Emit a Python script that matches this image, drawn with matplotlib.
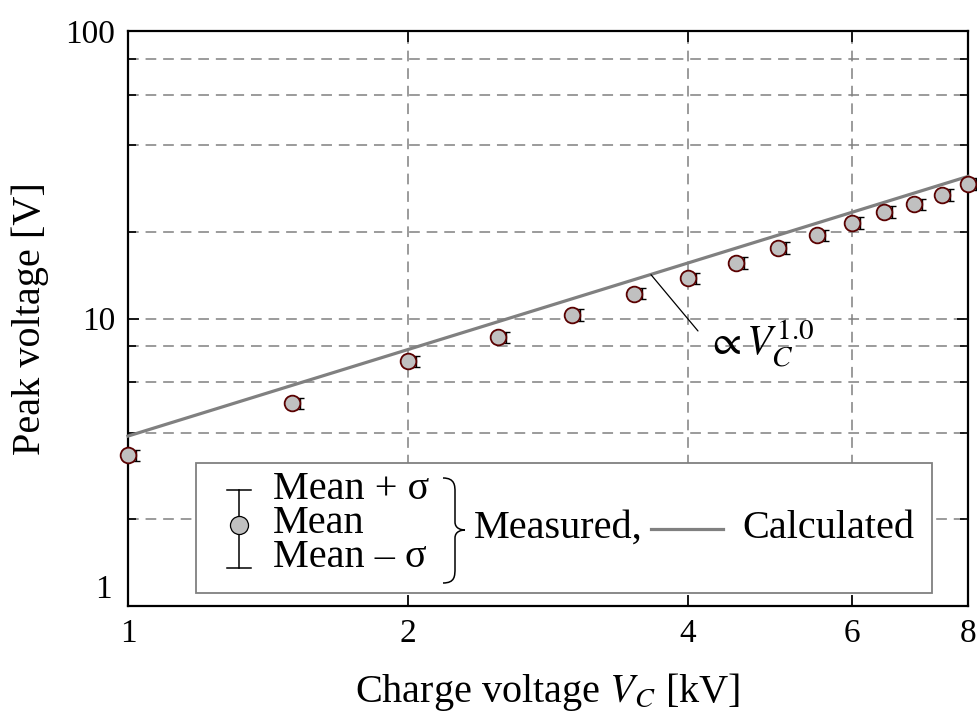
import matplotlib
matplotlib.use("Agg")
import matplotlib.pyplot as plt
from matplotlib.patches import Rectangle, PathPatch
from matplotlib.path import Path
from matplotlib.lines import Line2D

# measured data (charge voltage in kV, peak voltage in V)
charge_kv = [1.0, 1.5, 2.0, 2.5, 3.0, 3.5, 4.0, 4.5, 5.0, 5.5, 6.0, 6.5, 7.0, 7.5, 8.0]
peak_mean = [3.35, 5.08, 7.11, 8.62, 10.3, 12.2, 13.8, 15.6, 17.6, 19.5, 21.5, 23.5, 25.0, 26.9, 29.4]
peak_sigma = [0.15, 0.23, 0.32, 0.39, 0.46, 0.55, 0.62, 0.70, 0.79, 0.88, 0.97, 1.06, 1.13, 1.21, 1.32]

# calculated curve (proportional to V_C)
calc_kv = [1.0, 8.0]
calc_peak = [3.9, 31.2]

x_ticks = [1, 2, 4, 6, 8]
x_tick_labels = ["1", "2", "4", "6", "8"]
y_ticks = [1, 10, 100]
y_tick_labels = ["1", "10", "100"]
y_minor = [2, 4, 6, 8, 20, 40, 60, 80]

plt.rcParams["font.family"] = ["Liberation Serif", "DejaVu Serif"]
plt.rcParams["mathtext.fontset"] = "stix"
plt.rcParams["font.size"] = 24
big = 29

fig = plt.figure(figsize=(9.78, 7.16), dpi=100)
ax = fig.add_axes([128 / 978, 1 - 606 / 716, 840 / 978, 575 / 716])
ax.set_xscale("log")
ax.set_yscale("log")
ax.set_xlim(1, 8)
ax.set_ylim(1, 100)

grey = "#808080"
# calculated line
ax.plot(calc_kv, calc_peak, color=grey, lw=2.3, zorder=3, clip_on=False)

# error bars slightly shifted to the right of the marker
shift = 1.02
ax.errorbar([v * shift for v in charge_kv], peak_mean, yerr=peak_sigma, fmt="none",
            ecolor="black", elinewidth=1.0, capsize=3, capthick=1.0, zorder=4, clip_on=False)
ax.plot(charge_kv, peak_mean, "o", ms=11.3, mfc="#c0c0c0", mec="#5a0000", mew=1.3,
        zorder=5, clip_on=False)

# ticks and grid
ax.set_xticks(x_ticks)
ax.set_xticklabels(x_tick_labels)
ax.xaxis.set_minor_locator(matplotlib.ticker.NullLocator())
ax.set_yticks(y_ticks)
ax.set_yticklabels([""] + y_tick_labels[1:])
ax.set_yticks(y_minor, minor=True)
ax.yaxis.set_minor_formatter(matplotlib.ticker.NullFormatter())
ax.tick_params(which="both", direction="in", top=True, right=True, width=1.2)
ax.tick_params(which="major", length=8, pad=9)
ax.tick_params(which="minor", length=6)
ax.grid(True, which="both", color=grey, ls=(0, (7, 4.5)), lw=1.1)
for s in ax.spines.values():
    s.set_linewidth(1.6)
# the "1" of the y axis sits a little higher to keep clear of the x label
ax.text(-0.019, 0.028, y_tick_labels[0], transform=ax.transAxes, ha="right", va="center")

ax.set_xlabel("Charge voltage $V_C$ [kV]", fontsize=big, labelpad=16)
ax.set_ylabel("Peak voltage [V]", fontsize=big, labelpad=12)

# annotation of the slope
ax.annotate("", xy=(3.65, 14.2), xytext=(4.10, 9.05),
            arrowprops=dict(arrowstyle="-", color="black", lw=0.9, shrinkA=0, shrinkB=0))
ax.text(4.18, 8.1, r"$\propto V_C^{1.0}$", fontsize=30, va="center", ha="left")

# hand-made legend
T = ax.transAxes


def px(x, y):
    return ((x - 128) / 840, (606 - y) / 575)


ax.add_patch(Rectangle((0.081, 0.0226), 0.876, 0.226, transform=T, fill=True,
                       fc="white", ec=grey, lw=1.3, zorder=6))
ax.add_line(Line2D([0.132, 0.132], [0.066, 0.2017], transform=T, color="black", lw=1.1, zorder=7))
for yy in [0.066, 0.2017]:
    ax.add_line(Line2D([0.118, 0.146], [yy, yy], transform=T, color="black", lw=1.1, zorder=7))
ax.add_line(Line2D([0.132], [0.141], transform=T, marker="o", ms=13, mfc="#c0c0c0",
                   mec="black", mew=0.9, zorder=8))
ax.text(0.1726, 0.202, "Mean + σ", transform=T, va="center", ha="left", fontsize=big, zorder=8)
ax.text(0.1726, 0.143, "Mean", transform=T, va="center", ha="left", fontsize=big, zorder=8)
ax.text(0.1726, 0.084, "Mean – σ", transform=T, va="center", ha="left", fontsize=big, zorder=8)

# curly brace
verts = [px(443, 478), px(455, 478), px(455, 486), px(455, 492),
         px(455, 522),
         px(455, 529), px(462, 530), px(465, 530),
         px(462, 530), px(455, 531), px(455, 538),
         px(455, 568),
         px(455, 576), px(455, 583), px(443, 583)]
codes = [Path.MOVETO, Path.CURVE4, Path.CURVE4, Path.CURVE4,
         Path.LINETO,
         Path.CURVE4, Path.CURVE4, Path.CURVE4,
         Path.CURVE4, Path.CURVE4, Path.CURVE4,
         Path.LINETO,
         Path.CURVE4, Path.CURVE4, Path.CURVE4]
ax.add_patch(PathPatch(Path(verts, codes), transform=T, fill=False, ec="black", lw=1.1, zorder=8))

ax.text(px(474, 0)[0], px(0, 528)[1], "Measured,", transform=T, va="center", ha="left",
        fontsize=big, zorder=8)
ax.add_line(Line2D([px(651, 0)[0], px(723, 0)[0]], [px(0, 529)[1]] * 2, transform=T,
                   color=grey, lw=2.3, zorder=8))
ax.text(px(742, 0)[0], px(0, 528)[1], "Calculated", transform=T, va="center", ha="left",
        fontsize=big, zorder=8)

fig.savefig("out.png", dpi=100)
